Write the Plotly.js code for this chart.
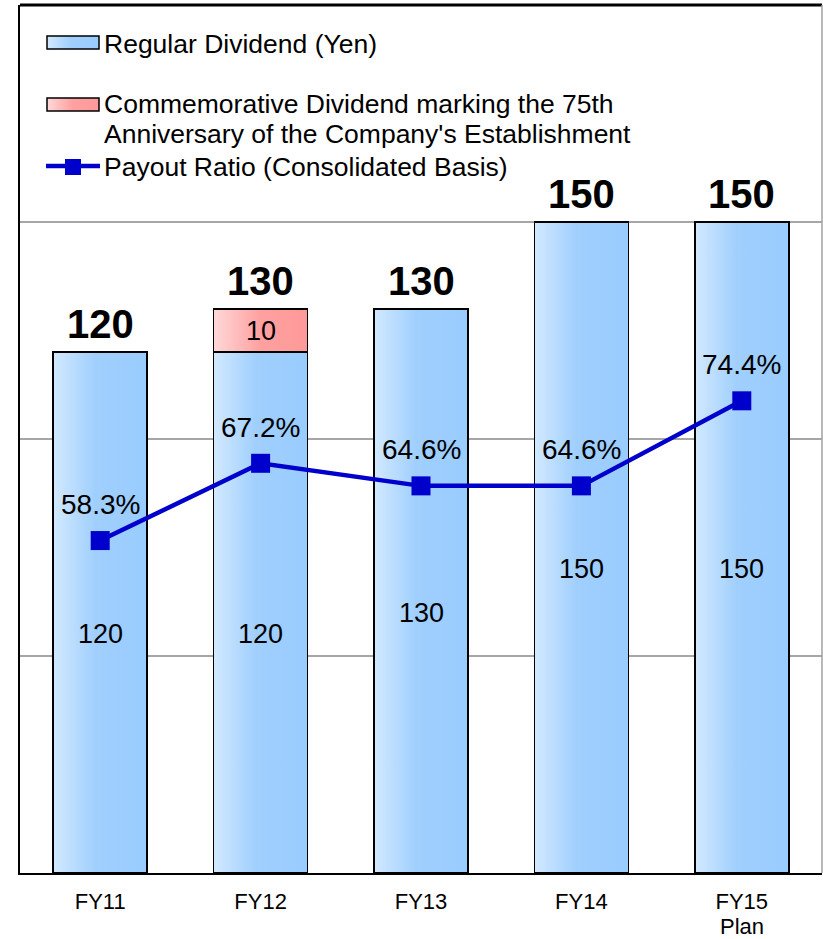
<!DOCTYPE html>
<html>
<head>
<meta charset="utf-8">
<script src="https://cdn.plot.ly/plotly-3.0.1.min.js"></script>
<style>html,body{margin:0;padding:0;background:#fff;}#chart{width:823px;height:939px;}</style>
</head>
<body>
<div id="chart"></div>
<script>
// ---- data ----
const fiscalYears = ['FY11', 'FY12', 'FY13', 'FY14', 'FY15'];
const yearNotes = ['', '', '', '', 'Plan'];
const regularDividend = [120, 120, 130, 150, 150];
const commemorativeDividend = [null, 10, null, null, null];
const payoutRatio = [58.3, 67.2, 64.6, 64.6, 74.4];
const legendLabels = ['Regular Dividend (Yen)', 'Commemorative Dividend marking the 75th', "Anniversary of the Company's Establishment", 'Payout Ratio (Consolidated Basis)'];

const FONT = 'Liberation Sans, Arial, sans-serif';
const W = 823, H = 939, ML = 20, MR = 1, MT = 5, MB = 66;
const PW = W - ML - MR, PH = H - MT - MB;
const px = x => (x - ML) / PW;
const py = y => (MT + PH - y) / PH;

const totals = regularDividend.map((v, i) => v + (commemorativeDividend[i] || 0));

const traces = [
  {type: 'bar', x: fiscalYears, y: regularDividend, width: 0.586, name: legendLabels[0],
   marker: {color: '#a3d0fc', line: {color: '#000', width: 1.5}}, hoverinfo: 'none'},
  {type: 'bar', x: fiscalYears, y: commemorativeDividend, width: 0.586, name: 'Commemorative',
   marker: {color: '#ffa3a3', line: {color: '#000', width: 1.5}}, hoverinfo: 'none'},
  {type: 'scatter', mode: 'lines+markers', x: fiscalYears, y: payoutRatio, yaxis: 'y2', name: legendLabels[3],
   line: {color: '#0000cc', width: 4.5}, marker: {symbol: 'square', size: 19, color: '#0000cc'}, hoverinfo: 'none'}
];

const annotations = [];
fiscalYears.forEach((c, i) => {
  annotations.push({x: c, y: totals[i], xref: 'x', yref: 'y', text: '<b>' + totals[i] + '</b>', showarrow: false,
    yanchor: 'middle', yshift: 28, font: {family: FONT, size: 40, color: '#000'}});
  annotations.push({x: c, y: regularDividend[i] / 2 - 5, xref: 'x', yref: 'y', text: String(regularDividend[i]), showarrow: false,
    yanchor: 'middle', font: {family: FONT, size: 27, color: '#000'}});
  if (commemorativeDividend[i]) {
    annotations.push({x: c, y: regularDividend[i] + commemorativeDividend[i] / 2, xref: 'x', yref: 'y', text: String(commemorativeDividend[i]), showarrow: false,
      yanchor: 'middle', font: {family: FONT, size: 27, color: '#000'}});
  }
  annotations.push({x: c, y: payoutRatio[i], xref: 'x', yref: 'y2', text: payoutRatio[i].toFixed(1) + '%', showarrow: false,
    yanchor: 'middle', yshift: 36, font: {family: FONT, size: 28, color: '#000'}});
  if (yearNotes[i]) {
    annotations.push({x: c, xref: 'x', yref: 'paper', y: py(926), text: yearNotes[i], showarrow: false,
      yanchor: 'middle', font: {family: FONT, size: 22, color: '#000'}});
  }
});
// legend texts
[[legendLabels[0], 44], [legendLabels[1], 104], [legendLabels[2], 134], [legendLabels[3], 167]].forEach(([t, y]) => {
  annotations.push({xref: 'paper', yref: 'paper', x: px(102), y: py(y), xanchor: 'left', yanchor: 'middle', text: t,
    showarrow: false, font: {family: FONT, size: 26.5, color: '#000'}});
});

const shapes = [
  {type: 'line', xref: 'paper', yref: 'paper', x0: 0, x1: 1, y0: 1, y1: 1, line: {color: '#000', width: 3}},
  {type: 'line', xref: 'paper', yref: 'paper', x0: 1, x1: 1, y0: 0, y1: 1, line: {color: '#a0a0a0', width: 1.5}},
  {type: 'rect', xref: 'paper', yref: 'paper', x0: px(47), x1: px(99), y0: py(49), y1: py(36), fillcolor: '#a3d0fc', line: {color: '#000', width: 1.5}},
  {type: 'rect', xref: 'paper', yref: 'paper', x0: px(47), x1: px(99), y0: py(111), y1: py(98), fillcolor: '#ffa3a3', line: {color: '#000', width: 1.5}},
  {type: 'line', xref: 'paper', yref: 'paper', x0: px(46), x1: px(100), y0: py(166), y1: py(166), line: {color: '#0000cc', width: 4.5}},
  {type: 'rect', xref: 'paper', yref: 'paper', x0: px(65), x1: px(81), y0: py(175), y1: py(159), fillcolor: '#0000cc', line: {width: 0}}
];

const layout = {
  width: W, height: H,
  margin: {l: ML, r: MR, t: MT, b: MB},
  paper_bgcolor: '#fff', plot_bgcolor: '#fff',
  barmode: 'stack', showlegend: false,
  font: {family: FONT, color: '#000'},
  xaxis: {type: 'category', showline: true, linecolor: '#000', linewidth: 2, ticks: '', showgrid: false,
    tickfont: {family: FONT, size: 22, color: '#000'}, ticklabelstandoff: 8, fixedrange: true},
  yaxis: {range: [0, 200], dtick: 50, tick0: 0, showgrid: true, gridcolor: '#a6a6a6', gridwidth: 1.5,
    showticklabels: false, ticks: '', showline: true, linecolor: '#000', linewidth: 2, zeroline: false, fixedrange: true},
  yaxis2: {range: [20, 120], overlaying: 'y', side: 'right', showgrid: false, showticklabels: false,
    showline: false, zeroline: false, ticks: '', fixedrange: true},
  shapes: shapes,
  annotations: annotations
};

function addGradients(gd) {
  const svg = gd.querySelector('svg.main-svg');
  const NS = 'http://www.w3.org/2000/svg';
  let defs = svg.querySelector('defs');
  if (!defs) { defs = document.createElementNS(NS, 'defs'); svg.insertBefore(defs, svg.firstChild); }
  const mk = (id, stops) => {
    const g = document.createElementNS(NS, 'linearGradient');
    g.setAttribute('id', id);
    g.setAttribute('x1', '0'); g.setAttribute('y1', '0'); g.setAttribute('x2', '1'); g.setAttribute('y2', '0');
    stops.forEach(([o, c]) => {
      const s = document.createElementNS(NS, 'stop');
      s.setAttribute('offset', o); s.setAttribute('stop-color', c);
      g.appendChild(s);
    });
    defs.appendChild(g);
  };
  mk('gBlue', [['0', '#d2e9ff'], ['0.45', '#a0cffd'], ['1', '#99ccff']]);
  mk('gRed', [['0', '#ffd8d8'], ['0.5', '#ffa0a0'], ['1', '#ff9999']]);
  const bt = gd.querySelectorAll('.barlayer .trace');
  if (bt[0]) bt[0].querySelectorAll('path').forEach(p => p.style.setProperty('fill', 'url(#gBlue)'));
  if (bt[1]) bt[1].querySelectorAll('path').forEach(p => p.style.setProperty('fill', 'url(#gRed)'));
  const s2 = gd.querySelectorAll('.shapelayer path[data-index="2"]');
  s2.forEach(p => p.style.setProperty('fill', 'url(#gBlue)'));
  const s3 = gd.querySelectorAll('.shapelayer path[data-index="3"]');
  s3.forEach(p => p.style.setProperty('fill', 'url(#gRed)'));
}

Plotly.newPlot('chart', traces, layout, {staticPlot: true, displayModeBar: false}).then(addGradients);
</script>
</body>
</html>
